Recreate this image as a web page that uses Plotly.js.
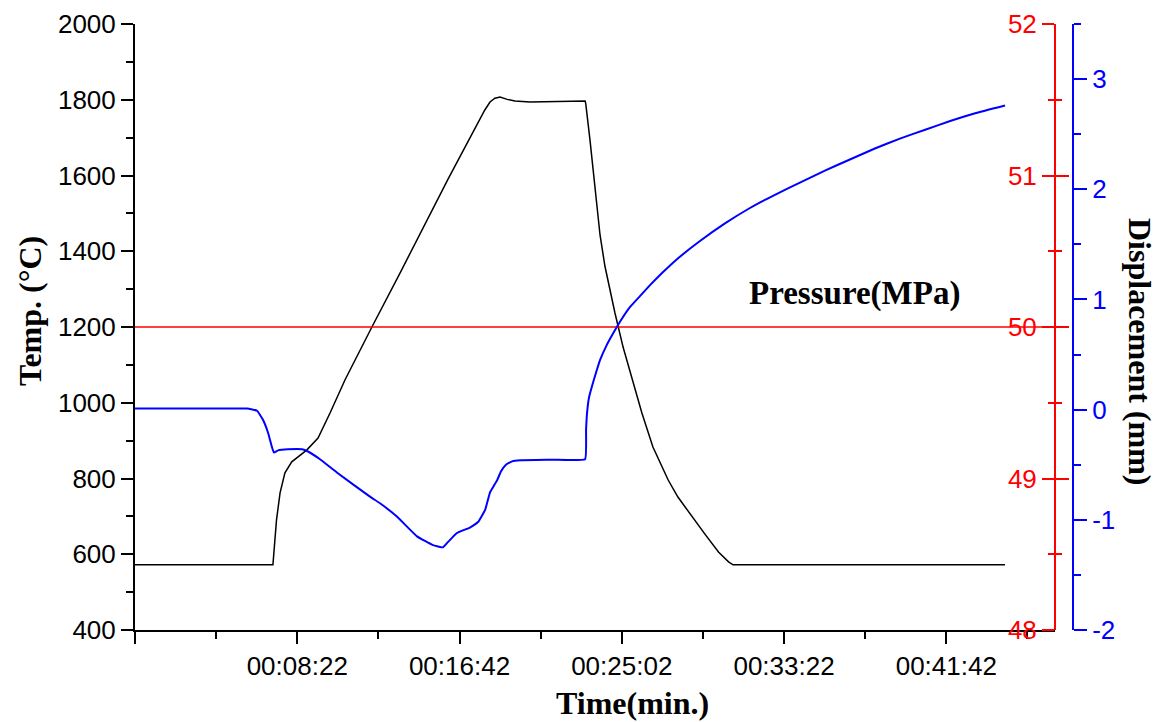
<!DOCTYPE html>
<html>
<head>
<meta charset="utf-8">
<script src="https://cdn.plot.ly/plotly-3.0.1.min.js"></script>
<style>html,body{margin:0;padding:0;background:#fff;}</style>
</head>
<body>
<div id="chart" style="width:1163px;height:722px;"></div>
<script>
// Time in seconds
const timeTemp = [2, 427, 438, 449, 464, 485, 531, 566, 603, 649, 732, 819, 967, 1065, 1080, 1096, 1111, 1127, 1149, 1173, 1219, 1389, 1391, 1404, 1420, 1435, 1450, 1466, 1481, 1506, 1534, 1564, 1598, 1645, 1675, 1714, 1760, 1800, 1831, 1845, 2683];
const tempC    = [572, 572, 690, 762, 815, 844, 875, 907, 973, 1060, 1200, 1343, 1591, 1747, 1773, 1794, 1804, 1807, 1801, 1797, 1794, 1797, 1790, 1694, 1570, 1443, 1361, 1292, 1237, 1147, 1060, 973, 883, 796, 751, 704, 651, 606, 580, 572, 572];

const timeDisp = [2, 200, 347, 378, 396, 412, 424, 430, 443, 473, 517, 535, 572, 624, 726, 757, 809, 871, 920, 951, 967, 994, 1034, 1059, 1081, 1096, 1108, 1118, 1130, 1145, 1164, 1189, 1290, 1389, 1392, 1395, 1401, 1410, 1423, 1435, 1453, 1475, 1497, 1527, 1558, 1589, 1626, 1666, 1743, 1820, 1897, 1974, 2051, 2128, 2205, 2282, 2359, 2437, 2514, 2591, 2683];
const dispMm   = [0.01, 0.01, 0.01, -0.01, -0.09, -0.21, -0.34, -0.39, -0.37, -0.36, -0.36, -0.38, -0.45, -0.57, -0.79, -0.85, -0.97, -1.15, -1.23, -1.25, -1.2, -1.12, -1.07, -1.02, -0.91, -0.75, -0.69, -0.64, -0.56, -0.50, -0.47, -0.46, -0.455, -0.45, -0.18, -0.03, 0.11, 0.21, 0.34, 0.45, 0.57, 0.69, 0.80, 0.93, 1.03, 1.13, 1.24, 1.35, 1.53, 1.69, 1.83, 1.95, 2.06, 2.17, 2.27, 2.37, 2.46, 2.54, 2.62, 2.69, 2.76];

const timePress = [2, 2837];
const pressMPa  = [50, 50];

const xTickVals = [2, 502, 1002, 1502, 2002, 2502];
const xTickText = ['', '00:08:22', '00:16:42', '00:25:02', '00:33:22', '00:41:42'];
const xMinorVals = [252, 752, 1252, 1752, 2252, 2752];
const dispTickVals = [-2, -1, 0, 1, 2, 3];
const dispTickText = ['-2', '-1', '0', '1', '2', '3'];

const sans = 'Liberation Sans, Arial, sans-serif';
const serif = 'Liberation Serif, Times New Roman, serif';
const xEnd = 920 / 938;
const tickSize = 26;

const traces = [
  {x: timeTemp, y: tempC, type: 'scatter', mode: 'lines', line: {color: 'black', width: 1.5}, yaxis: 'y', hoverinfo: 'skip'},
  {x: timePress, y: pressMPa, type: 'scatter', mode: 'lines', line: {color: 'red', width: 1.5}, yaxis: 'y2', hoverinfo: 'skip'},
  {x: [null], y: [null], type: 'scatter', mode: 'lines', yaxis: 'y4', hoverinfo: 'skip'},
  {x: timeDisp, y: dispMm, type: 'scatter', mode: 'lines', line: {color: 'blue', width: 2, shape: 'spline', smoothing: 0.3}, yaxis: 'y3', hoverinfo: 'skip'}
];

const layout = {
  width: 1163, height: 722,
  margin: {l: 135, r: 90, t: 24, b: 92, pad: 0},
  paper_bgcolor: 'white', plot_bgcolor: 'white',
  showlegend: false,
  font: {family: sans, size: tickSize, color: 'black'},
  xaxis: {
    domain: [0, xEnd], range: [2, 2837],
    tickmode: 'array', tickvals: xTickVals, ticktext: xTickText,
    ticks: 'outside', ticklen: 12, tickwidth: 2, tickcolor: 'black',
    showline: true, linewidth: 2, linecolor: 'black',
    showgrid: false, zeroline: false,
    tickfont: {family: sans, size: tickSize, color: 'black'},
    minor: {tickmode: 'array', tickvals: xMinorVals, ticks: 'outside', ticklen: 7, tickwidth: 2, tickcolor: 'black', showgrid: false}
  },
  yaxis: {
    range: [400, 2000], tickmode: 'linear', tick0: 0, dtick: 200,
    ticks: 'outside', ticklen: 12, tickwidth: 2, tickcolor: 'black',
    showline: true, linewidth: 2, linecolor: 'black',
    showgrid: false, zeroline: false,
    tickfont: {family: sans, size: tickSize, color: 'black'},
    minor: {dtick: 100, ticks: 'outside', ticklen: 7, tickwidth: 2, tickcolor: 'black', showgrid: false}
  },
  yaxis2: {
    overlaying: 'y', anchor: 'free', position: xEnd, side: 'left',
    range: [48, 52], tickmode: 'linear', tick0: 48, dtick: 1,
    ticks: 'outside', ticklen: 12, tickwidth: 2, tickcolor: 'red',
    showline: true, linewidth: 2, linecolor: 'red',
    showgrid: false, zeroline: false,
    tickfont: {family: sans, size: tickSize, color: 'red'},
    minor: {dtick: 0.5, ticks: 'outside', ticklen: 6, tickwidth: 2, tickcolor: 'red', showgrid: false}
  },
  yaxis4: {
    overlaying: 'y', anchor: 'free', position: xEnd, side: 'left',
    range: [48, 52], tickmode: 'linear', tick0: 48, dtick: 1,
    ticks: 'inside', ticklen: 13, tickwidth: 2, tickcolor: 'red',
    showticklabels: false, showline: false,
    showgrid: false, zeroline: false,
    minor: {dtick: 0.5, ticks: 'inside', ticklen: 6, tickwidth: 2, tickcolor: 'red', showgrid: false}
  },
  yaxis3: {
    overlaying: 'y', anchor: 'free', position: 1, side: 'right',
    range: [-2, 3.5], tickmode: 'array', tickvals: dispTickVals, ticktext: dispTickText,
    ticks: 'outside', ticklen: 13, tickwidth: 2, tickcolor: 'blue',
    showline: true, linewidth: 2, linecolor: 'blue',
    showgrid: false, zeroline: false,
    tickfont: {family: sans, size: tickSize, color: 'blue'},
    minor: {tickmode: 'linear', tick0: -2, dtick: 0.5, ticks: 'outside', ticklen: 7, tickwidth: 2, tickcolor: 'blue', showgrid: false}
  },
  annotations: [
    {text: '<b>Time(min.)</b>', xref: 'paper', yref: 'paper', x: (632 - 135) / 938, y: (630 - 703) / 606,
     xanchor: 'center', yanchor: 'middle', showarrow: false, font: {family: serif, size: 32, color: 'black'}},
    {text: '<b>Temp. (°C)</b>', xref: 'paper', yref: 'paper', x: (30 - 135) / 938, y: (630 - 311) / 606,
     xanchor: 'center', yanchor: 'middle', textangle: -90, showarrow: false, font: {family: serif, size: 32, color: 'black'}},
    {text: '<b>Displacement (mm)</b>', xref: 'paper', yref: 'paper', x: (1140 - 135) / 938, y: (630 - 351) / 606,
     xanchor: 'center', yanchor: 'middle', textangle: 90, showarrow: false, font: {family: serif, size: 32, color: 'black'}},
    {text: '<b>Pressure(MPa)</b>', xref: 'paper', yref: 'paper', x: (854 - 135) / 938, y: (630 - 293) / 606,
     xanchor: 'center', yanchor: 'middle', showarrow: false, font: {family: serif, size: 33, color: 'black'}}
  ]
};

Plotly.newPlot('chart', traces, layout, {staticPlot: true, displayModeBar: false});
</script>
</body>
</html>
